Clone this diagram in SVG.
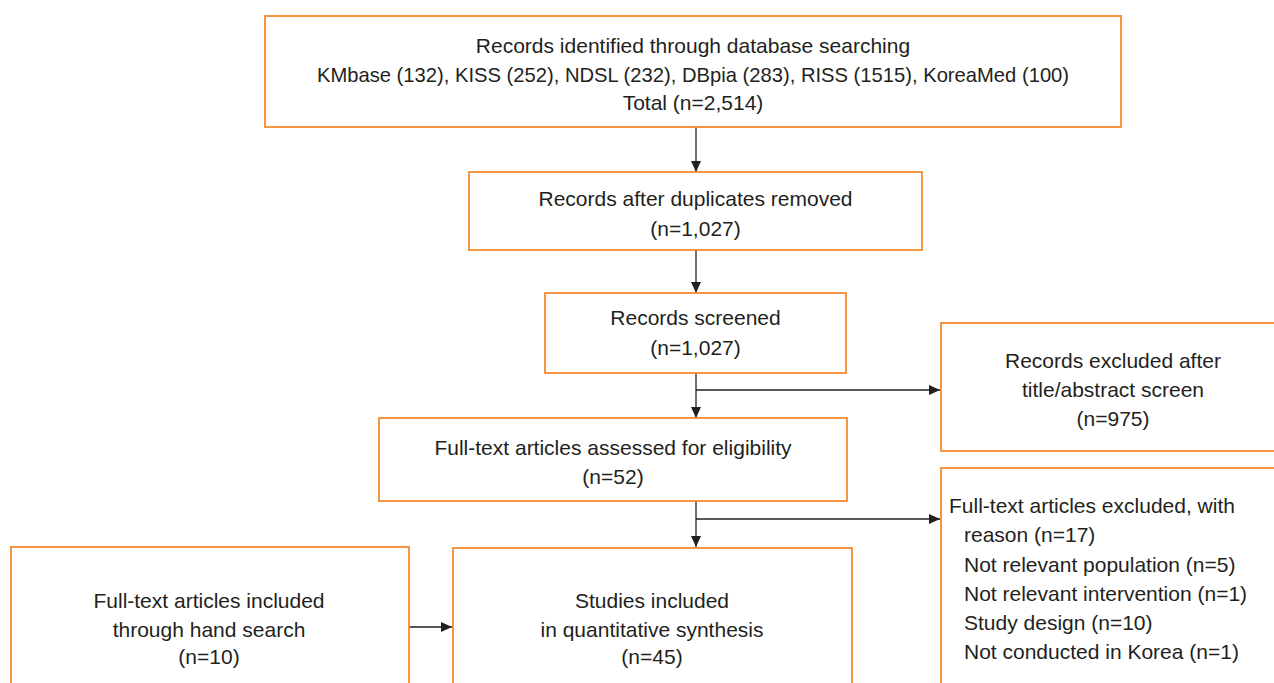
<svg xmlns="http://www.w3.org/2000/svg" width="1274" height="683" viewBox="0 0 1274 683">
<defs>
<style>
.box{fill:#fff;stroke:#F58A2E;stroke-width:1.8}
.t{font-family:"Liberation Sans",Arial,sans-serif;font-size:21px;fill:#231f20}
.c{text-anchor:middle}
.ln{stroke:#231f20;stroke-width:1.3;fill:none}
</style>
<marker id="ah" markerUnits="userSpaceOnUse" markerWidth="12" markerHeight="10" refX="11" refY="5" orient="auto">
<path d="M0,0 L11,5 L0,10 z" fill="#231f20"/>
</marker>
</defs>
<rect width="1274" height="683" fill="#fff"/>
<g id="connectors">
<line class="ln" x1="696" y1="127" x2="696" y2="172" marker-end="url(#ah)"/>
<line class="ln" x1="696" y1="250" x2="696" y2="293" marker-end="url(#ah)"/>
<line class="ln" x1="696" y1="373" x2="696" y2="418" marker-end="url(#ah)"/>
<line class="ln" x1="696" y1="390" x2="940" y2="390" marker-end="url(#ah)"/>
<line class="ln" x1="696" y1="501" x2="696" y2="547" marker-end="url(#ah)"/>
<line class="ln" x1="696" y1="519" x2="940" y2="519" marker-end="url(#ah)"/>
<line class="ln" x1="409" y1="627" x2="452" y2="627" marker-end="url(#ah)"/>
</g>
<g id="identified">
<rect class="box" x="265" y="16" width="856" height="111"/>
<text class="t c" x="693" y="53">Records identified through database searching</text>
<text class="t c" x="693" y="82" style="font-size:20.2px">KMbase (132), KISS (252), NDSL (232), DBpia (283), RISS (1515), KoreaMed (100)</text>
<text class="t c" x="693" y="110">Total (n=2,514)</text>
</g>
<g id="duplicates">
<rect class="box" x="469" y="172" width="453" height="78"/>
<text class="t c" x="695.5" y="206">Records after duplicates removed</text>
<text class="t c" x="695.5" y="236">(n=1,027)</text>
</g>
<g id="screened">
<rect class="box" x="545" y="293" width="301" height="80"/>
<text class="t c" x="695.5" y="325">Records screened</text>
<text class="t c" x="695.5" y="355">(n=1,027)</text>
</g>
<g id="excluded-title">
<rect class="box" x="941" y="323" width="360" height="128"/>
<text class="t c" x="1113" y="368">Records excluded after</text>
<text class="t c" x="1113" y="397">title/abstract screen</text>
<text class="t c" x="1113" y="426">(n=975)</text>
</g>
<g id="assessed">
<rect class="box" x="379" y="418" width="468" height="83"/>
<text class="t c" x="613" y="455">Full-text articles assessed for eligibility</text>
<text class="t c" x="613" y="484">(n=52)</text>
</g>
<g id="excluded-fulltext">
<rect class="box" x="941" y="468" width="360" height="240"/>
<text class="t" x="949" y="513">Full-text articles excluded, with</text>
<text class="t" x="964" y="542">reason (n=17)</text>
<text class="t" x="964" y="571.5">Not relevant population (n=5)</text>
<text class="t" x="964" y="600.5">Not relevant intervention (n=1)</text>
<text class="t" x="964" y="630">Study design (n=10)</text>
<text class="t" x="964" y="658.5">Not conducted in Korea (n=1)</text>
</g>
<g id="hand-search">
<rect class="box" x="11" y="547" width="398" height="160"/>
<text class="t c" x="209" y="608">Full-text articles included</text>
<text class="t c" x="209" y="637">through hand search</text>
<text class="t c" x="209" y="664">(n=10)</text>
</g>
<g id="included">
<rect class="box" x="453" y="548" width="399" height="160"/>
<text class="t c" x="652" y="608">Studies included</text>
<text class="t c" x="652" y="637">in quantitative synthesis</text>
<text class="t c" x="652" y="664">(n=45)</text>
</g>
</svg>
